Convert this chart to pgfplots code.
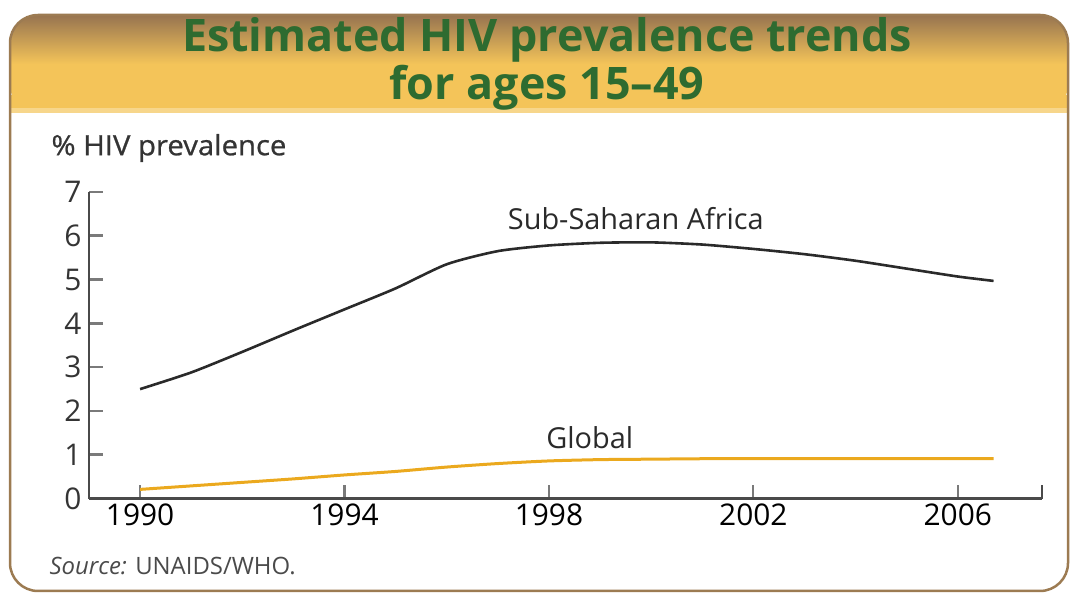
\documentclass[border=0pt]{standalone}
\usepackage{fontspec}
\setmainfont{Open Sans}[FakeStretch=1.0]
\newfontfamily\titlefont{Open Sans}[FakeStretch=1.0]
\newfontfamily\labfont{Open Sans}[FakeStretch=1.05, FakeBold=0.8]
\usepackage{pgfplots}
\usepackage{pgfplotstable}
\pgfplotsset{compat=1.18}
\definecolor{frameC}{HTML}{9C7B52}
\definecolor{hdrTop}{HTML}{977450}
\definecolor{hdrY}{HTML}{F4C459}
\definecolor{titleG}{HTML}{2E6B30}
\definecolor{axC}{HTML}{4A4A4A}
\definecolor{tickC}{HTML}{7A7A7A}
\definecolor{afr}{HTML}{2A2A2A}
\definecolor{glob}{HTML}{EBA91E}

\pgfplotstableread{
year val
1990 2.50
1991 2.88
1992 3.35
1993 3.84
1994 4.32
1995 4.80
1996 5.35
1997 5.65
1998 5.78
1999 5.84
2000 5.85
2001 5.80
2002 5.70
2003 5.58
2004 5.43
2005 5.25
2006 5.07
2006.7 4.97
}\africatab

\pgfplotstableread{
year val
1990 0.21
1991 0.29
1992 0.37
1993 0.45
1994 0.54
1995 0.62
1996 0.72
1997 0.80
1998 0.86
1999 0.89
2000 0.90
2001 0.91
2002 0.91
2003 0.91
2004 0.91
2005 0.91
2006 0.91
2006.7 0.91
}\globaltab

\begin{document}
\begin{tikzpicture}[x=1bp,y=1bp]
\path[use as bounding box] (0,0) rectangle (1072,595);
% header band
\shade[top color=hdrTop, bottom color=hdrY, middle color=hdrY, rounded corners=28bp]
  (10,482) -- (10,580) -- (1068,580) -- (1068,482) -- cycle;
\fill[hdrY] (10,482) rectangle (1068,500);
\fill[hdrY!70!white] (10,482) rectangle (1068,487);
% frame
\draw[frameC, line width=2.5bp, rounded corners=28bp] (10,580) rectangle (1068,4);
% title
\node[font=\titlefont\bfseries\fontsize{45}{45}\selectfont, text=titleG] at (547,555) {Estimated HIV prevalence trends};
\node[font=\titlefont\bfseries\fontsize{45}{45}\selectfont, text=titleG] at (547,507) {for ages 15–49};
% y label
\node[anchor=west, font=\labfont\fontsize{28}{28}\selectfont, text=axC!70!black] at (48,447) {\% HIV prevalence};
% source
\node[anchor=west, font=\fontsize{24}{24}\selectfont, text=axC] at (46,29) {\textit{Source:} UNAIDS/WHO.};

\begin{axis}[
  at={(89bp,96.4bp)}, anchor=south west,
  scale only axis, width=952.6bp, height=306.6bp,
  xmin=1989, xmax=2007.64, ymin=0, ymax=7,
  axis lines=left, axis line style={-, axC, line width=2.4bp},
  xtick={1990,1994,1998,2002,2006},
  xticklabels={1990,1994,1998,2002,2006},
  extra x ticks={2007.64}, extra x tick labels={},
  extra x tick style={major tick length=14bp, tick style={axC, line width=2.2bp}},
  ytick={0,1,2,3,4,5,6,7},
  yticklabels={0,1,2,3,4,5,6,7},
  tick align=inside, major tick length=14bp,
  tick style={tickC, line width=2.2bp},
  ytick style={tickC, line width=2.6bp},
  x tick label style={font=\fontsize{30}{30}\selectfont, text=black, yshift=-2bp},
  y tick label style={font=\fontsize{30}{30}\selectfont, text=axC!70!black, xshift=-4bp},
  clip=false,
]
\addplot[afr, line width=2.6bp, smooth, tension=0.4] table[x=year,y=val] {\africatab};
\addplot[glob, line width=3bp, smooth, tension=0.4] table[x=year,y=val] {\globaltab};
\node[font=\fontsize{29}{29}\selectfont, text=afr] at (axis cs:1999.7,6.4) {Sub-Saharan Africa};
\node[font=\fontsize{29}{29}\selectfont, text=afr] at (axis cs:1998.8,1.38) {Global};
\end{axis}
\end{tikzpicture}
\end{document}
